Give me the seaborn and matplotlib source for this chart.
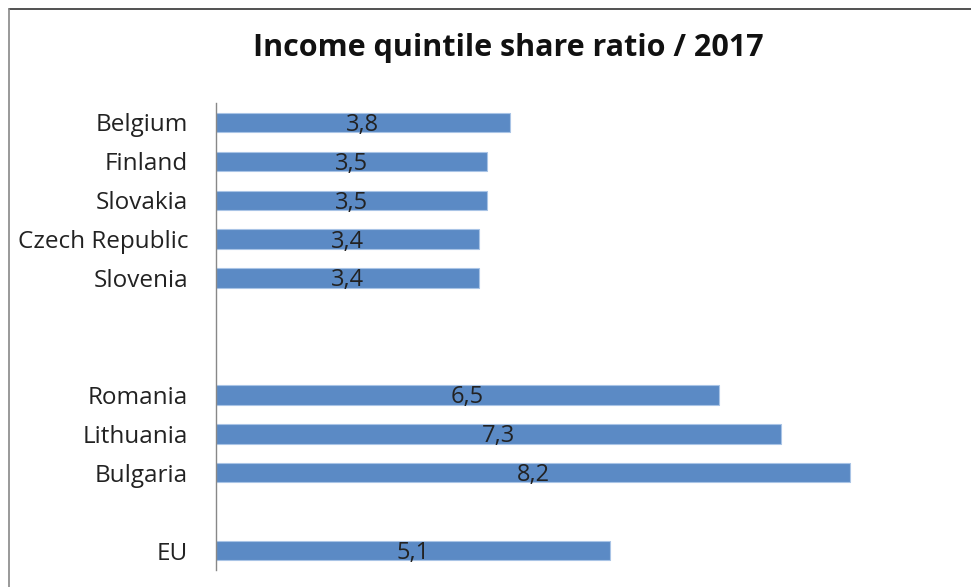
import matplotlib
matplotlib.use("Agg")
import matplotlib.pyplot as plt
import seaborn as sns
import pandas as pd
from matplotlib.lines import Line2D

# Income quintile share ratio (S80/S20), 2017
countries = ["Belgium", "Finland", "Slovakia", "Czech Republic", "Slovenia",
             "Romania", "Lithuania", "Bulgaria", "EU"]
values = [3.8, 3.5, 3.5, 3.4, 3.4, 6.5, 7.3, 8.2, 5.1]

# row order with empty spacer rows between the groups
row_order = ["Belgium", "Finland", "Slovakia", "Czech Republic", "Slovenia",
             " ", "  ", "Romania", "Lithuania", "Bulgaria", "   ", "EU"]

df = pd.DataFrame({"country": countries, "value": values})

sns.set_theme(style="white")
plt.rcParams["font.family"] = ["Open Sans", "DejaVu Sans"]

fig = plt.figure(figsize=(9.71, 5.87), dpi=100)
ax = fig.add_axes([216 / 971, 1 - 570 / 587, (912 - 216) / 971, (570 - 103) / 587])

sns.barplot(data=df, x="value", y="country", order=row_order, orient="h",
            color="#5B8AC5", saturation=1, width=0.5,
            edgecolor="#A9C4E6", linewidth=0.8, ax=ax)

ax.set_xlim(0, 9)
ax.set_xlabel("")
ax.set_ylabel("")
ax.set_xticks([])
ax.tick_params(axis="y", length=0, pad=20, labelsize=17.5, labelcolor="#222222")
for side in ["top", "right", "bottom"]:
    ax.spines[side].set_visible(False)
ax.spines["left"].set_color("#888888")
ax.spines["left"].set_linewidth(1.0)

# value labels centred inside each bar, with decimal comma
for name, v in zip(countries, values):
    ypos = row_order.index(name)
    ax.text(v / 2, ypos + 0.06, f"{v:.1f}".replace(".", ","), ha="center", va="center",
            fontsize=17, color="#222222")

fig.text(508 / 971, 1 - 48 / 587, "Income quintile share ratio / 2017",
         ha="center", va="center", fontsize=22, fontweight="bold", color="#111111")

# chart frame
fig.add_artist(Line2D([9 / 971, 1], [1 - 9 / 587, 1 - 9 / 587],
                      transform=fig.transFigure, color="#333333", linewidth=1.2))
fig.add_artist(Line2D([9 / 971, 9 / 971], [0, 1 - 9 / 587],
                      transform=fig.transFigure, color="#888888", linewidth=1.2))

fig.savefig("out.png", dpi=100, facecolor="white")
